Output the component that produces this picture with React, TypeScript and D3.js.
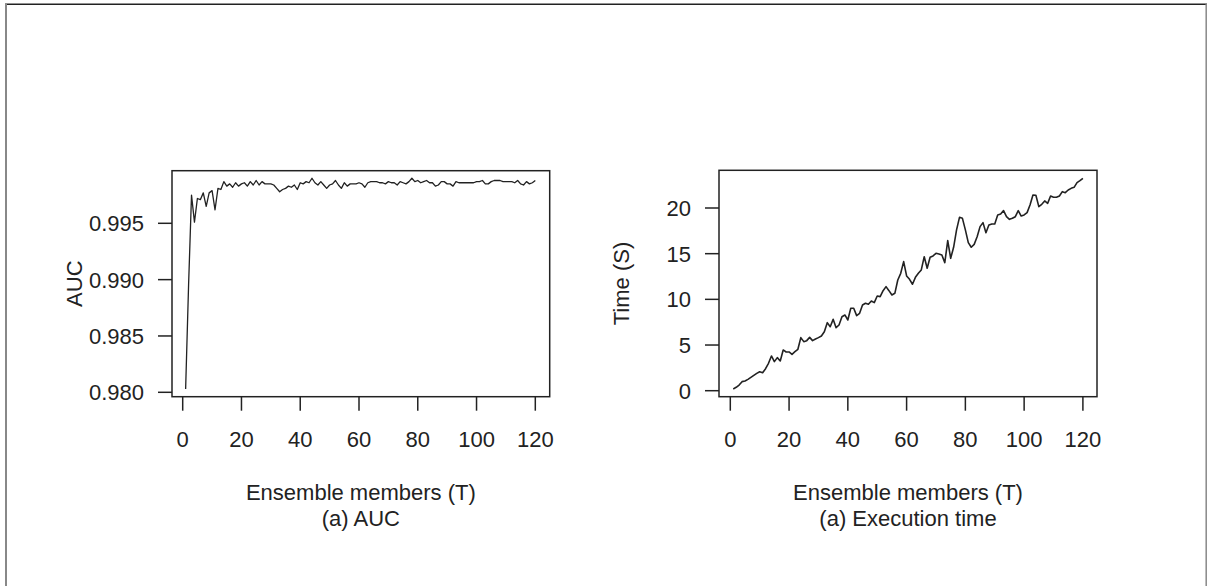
import React from "react";
import * as d3 from "d3";

const members: number[] = d3.range(1, 121);

const aucValues: number[] = [
  0.9803, 0.9895, 0.9975, 0.9951, 0.9972, 0.9971, 0.9977, 0.9965, 0.9977, 0.9979,
  0.9962, 0.9981, 0.9980, 0.9987, 0.9983, 0.9985, 0.9982, 0.9986, 0.9983, 0.9985,
  0.9986, 0.9983, 0.9987, 0.9984, 0.9988, 0.9984, 0.9987, 0.9985, 0.9985, 0.9985,
  0.9984, 0.9981, 0.9978, 0.9980, 0.9981, 0.9983, 0.9982, 0.9984, 0.9980, 0.9986,
  0.9985, 0.9987, 0.9986, 0.9990, 0.9986, 0.9984, 0.9987, 0.9984, 0.9981, 0.9984,
  0.9985, 0.9988, 0.9984, 0.9981, 0.9986, 0.9983, 0.9985, 0.9985, 0.9985, 0.9986,
  0.9985, 0.9982, 0.9986, 0.9987, 0.9987, 0.9987, 0.9986, 0.9986, 0.9985, 0.9987,
  0.9986, 0.9986, 0.9984, 0.9987, 0.9986, 0.9985, 0.9987, 0.9990, 0.9987, 0.9988,
  0.9986, 0.9987, 0.9988, 0.9986, 0.9986, 0.9983, 0.9984, 0.9987, 0.9987, 0.9985,
  0.9985, 0.9983, 0.9987, 0.9986, 0.9986, 0.9986, 0.9986, 0.9986, 0.9986, 0.9987,
  0.9987, 0.9988, 0.9985, 0.9985, 0.9987, 0.9988, 0.9988, 0.9988, 0.9987, 0.9987,
  0.9987, 0.9987, 0.9986, 0.9988, 0.9985, 0.9984, 0.9987, 0.9985, 0.9986, 0.9988,
];

const timeValues: number[] = [
  0.19, 0.37, 0.62, 0.99, 1.06, 1.24, 1.46, 1.68, 1.9, 2.08,
  1.97, 2.41, 3.0, 3.8, 3.18, 3.62, 3.25, 4.46, 4.24, 4.24,
  3.98, 4.27, 4.53, 5.81, 5.37, 5.48, 5.84, 5.48, 5.66, 5.81,
  5.99, 6.46, 7.45, 7.0, 7.81, 6.9, 7.19, 8.1, 8.29, 7.74,
  9.02, 9.02, 8.22, 8.47, 9.38, 9.57, 9.46, 9.82, 9.64, 10.37,
  10.3, 10.95, 11.39, 10.95, 10.48, 10.66, 12.12, 12.85, 14.13, 12.56,
  12.19, 11.65, 12.41, 12.85, 13.22, 14.67, 13.4, 14.6, 14.75, 15.04,
  14.97, 14.86, 14.02, 16.43, 14.49, 15.7, 17.6, 18.98, 18.87, 17.6,
  16.21, 15.7, 16.02, 16.86, 17.96, 18.4, 17.3, 18.14, 18.25, 18.25,
  19.24, 19.34, 19.71, 19.05, 18.76, 18.87, 19.05, 19.71, 19.12, 19.24,
  19.49, 20.33, 21.42, 21.39, 20.15, 20.4, 20.77, 20.51, 21.31, 21.17,
  21.17, 21.31, 21.79, 21.68, 21.97, 22.15, 22.26, 22.77, 22.99, 23.25,
];

const xTicks: number[] = [0, 20, 40, 60, 80, 100, 120];
const aucTicks: number[] = [0.98, 0.985, 0.99, 0.995];
const timeTicks: number[] = [0, 5, 10, 15, 20];

const FONT = "'Liberation Sans', Arial, Helvetica, sans-serif";
const INK = "#222";

type PanelProps = {
  values: number[];
  yTicks: number[];
  yFmt: (v: number) => string;
  yDomain: [number, number];
  yRange: [number, number];
  box: { x0: number; x1: number; y0: number; y1: number };
  xRange: [number, number];
  ylab: string;
  sub: string;
  lineWidth: number;
};

function Panel({ values, yTicks, yFmt, yDomain, yRange, box, xRange, ylab, sub, lineWidth }: PanelProps) {
  const x = d3.scaleLinear().domain([0, 120]).range(xRange);
  const y = d3.scaleLinear().domain(yDomain).range(yRange);
  const line = d3
    .line<number>()
    .x((_, i) => x(members[i]))
    .y((d) => y(d));
  const cx = (box.x0 + box.x1) / 2;
  const cy = (box.y0 + box.y1) / 2;
  return (
    <g fontFamily={FONT} fill={INK}>
      <path d={line(values) || ""} fill="none" stroke={INK} strokeWidth={lineWidth} strokeLinejoin="round" />
      <rect x={box.x0} y={box.y0} width={box.x1 - box.x0} height={box.y1 - box.y0} fill="none" stroke={INK} strokeWidth={1.5} />
      {xTicks.map((t) => (
        <g key={"x" + t}>
          <line x1={x(t)} x2={x(t)} y1={box.y1} y2={box.y1 + 14} stroke={INK} strokeWidth={1.5} />
          <text x={x(t)} y={447} textAnchor="middle" fontSize={22}>
            {t}
          </text>
        </g>
      ))}
      {yTicks.map((t) => (
        <g key={"y" + t}>
          <line x1={box.x0 - 14} x2={box.x0} y1={y(t)} y2={y(t)} stroke={INK} strokeWidth={1.5} />
          <text x={box.x0 - 28} y={y(t)} dy="0.36em" textAnchor="end" fontSize={22}>
            {yFmt(t)}
          </text>
        </g>
      ))}
      <text
        transform={`translate(${box.x0 - 90},${cy}) rotate(-90)`}
        textAnchor="middle"
        fontSize={22}
      >
        {ylab}
      </text>
      <text x={cx} y={500} textAnchor="middle" fontSize={22}>
        Ensemble members (T)
      </text>
      <text x={cx} y={526} textAnchor="middle" fontSize={22}>
        {sub}
      </text>
    </g>
  );
}

export default function App() {
  return (
    <svg
      width={1208}
      height={586}
      style={{ position: "absolute", left: 0, top: 0, background: "#fff" }}
    >
      <rect x={0} y={0} width={1208} height={586} fill="#fff" />
      <line x1={5} x2={1207} y1={4.2} y2={4.2} stroke="#222" strokeWidth={1.5} />
      <line x1={6} x2={6} y1={4} y2={586} stroke="#888" strokeWidth={2} />
      <line x1={1206.2} x2={1206.2} y1={4} y2={586} stroke="#888" strokeWidth={1.5} />
      <Panel
        values={aucValues}
        yTicks={aucTicks}
        yFmt={(v) => d3.format(".3f")(v)}
        yDomain={[0.98, 0.995]}
        yRange={[392.3, 223.3]}
        box={{ x0: 172, x1: 549.7, y0: 170.7, y1: 396.7 }}
        xRange={[182.7, 535.3]}
        ylab="AUC"
        sub="(a) AUC"
        lineWidth={1.3}
      />
      <Panel
        values={timeValues}
        yTicks={timeTicks}
        yFmt={(v) => String(v)}
        yDomain={[0, 20]}
        yRange={[390.7, 208]}
        box={{ x0: 719, x1: 1097, y0: 170.3, y1: 396.7 }}
        xRange={[730.3, 1082.9]}
        ylab="Time (S)"
        sub="(a) Execution time"
        lineWidth={1.6}
      />
    </svg>
  );
}
